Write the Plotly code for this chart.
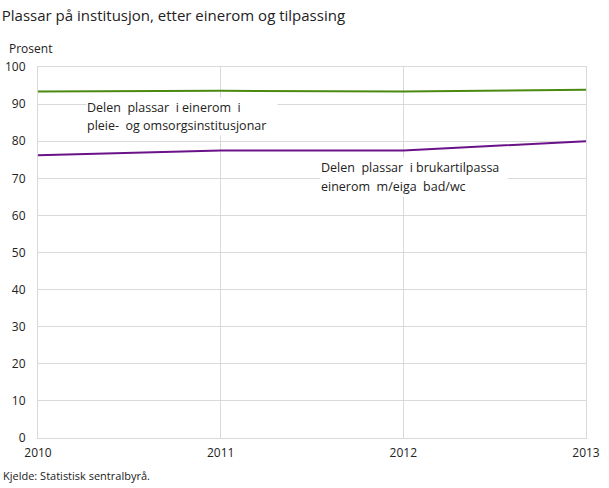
import plotly.graph_objects as go

years = [2010, 2011, 2012, 2013]
einerom = [93.4, 93.6, 93.4, 93.9]
brukartilpassa = [76.2, 77.5, 77.5, 80.0]
y_ticks = [0, 10, 20, 30, 40, 50, 60, 70, 80, 90, 100]

label_einerom = ["Delen  plassar  i einerom  i", "pleie-  og omsorgsinstitusjonar"]
label_brukar = ["Delen  plassar  i brukartilpassa", "einerom  m/eiga  bad/wc"]

FONT = "Open Sans"

fig = go.Figure()

fig.add_trace(go.Scatter(x=years, y=einerom, mode="lines",
                         line=dict(color="#4a8a10", width=2),
                         name=" ".join(label_einerom)))
fig.add_trace(go.Scatter(x=years, y=brukartilpassa, mode="lines",
                         line=dict(color="#6a1288", width=2),
                         name=" ".join(label_brukar)))

# line labels, one annotation per text line so the spacing can match
def add_label(lines, x, y_first, step, box_w):
    for i, txt in enumerate(lines):
        fig.add_annotation(x=x, y=y_first - i * step, xref="x", yref="y",
                           text=txt, showarrow=False, xanchor="left", align="left",
                           width=box_w, height=19, borderpad=0,
                           bgcolor="white", font=dict(family=FONT, size=12.5, color="#222"))

add_label(label_einerom, 2010.265, 89.2, 5.1, 190)
add_label(label_brukar, 2011.545, 73.0, 5.1, 186)

# axis title and source
fig.add_annotation(x=-0.057, y=1.05, xref="paper", yref="paper", text="Prosent",
                   showarrow=False, xanchor="left", yanchor="middle",
                   font=dict(family=FONT, size=12, color="#222"))
fig.add_annotation(x=-0.068, y=-0.102, xref="paper", yref="paper",
                   text="Kjelde: Statistisk sentralbyrå.", showarrow=False,
                   xanchor="left", yanchor="middle",
                   font=dict(family=FONT, size=11, color="#222"))

fig.update_layout(
    width=609, height=488,
    margin=dict(l=38, r=23, t=67, b=50, autoexpand=False),
    plot_bgcolor="white", paper_bgcolor="white",
    showlegend=False,
    font=dict(family=FONT, size=12, color="#222"),
    title=dict(text="Plassar på institusjon, etter einerom og tilpassing",
               x=0.003, xref="container", xanchor="left",
               y=0.967, yref="container", yanchor="middle",
               font=dict(family=FONT, size=15, color="#222")),
)

fig.update_xaxes(range=[2010, 2013], tickvals=years, ticktext=[str(y) for y in years],
                 showgrid=True, gridcolor="#d9d9d9", gridwidth=1,
                 showline=True, linecolor="#d9d9d9", mirror=True,
                 zeroline=False, ticks="", ticklabelstandoff=4, automargin=False,
                 tickfont=dict(family=FONT, size=12, color="#222"))
fig.update_yaxes(range=[0, 100], tickvals=y_ticks,
                 showgrid=True, gridcolor="#d9d9d9", gridwidth=1,
                 showline=True, linecolor="#d9d9d9", mirror=True,
                 zeroline=False, ticks="", ticklabelstandoff=9, automargin=False,
                 tickfont=dict(family=FONT, size=12, color="#222"))

# drop the browser's default page margin so the figure sits at the top-left corner
fig.write_html("out.html", config={"displayModeBar": False},
               post_script="document.body.style.margin='0';")
